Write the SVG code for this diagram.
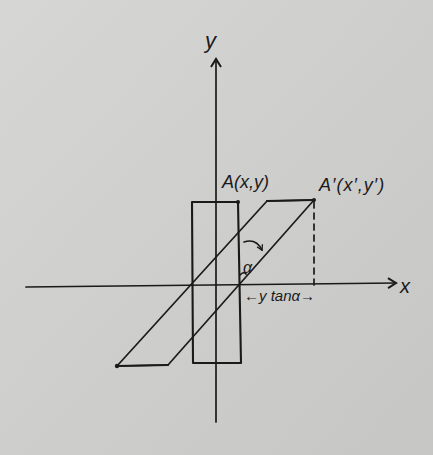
<svg xmlns="http://www.w3.org/2000/svg" width="433" height="455" viewBox="0 0 433 455">
<style>
.ln{stroke:#1a1a1a;stroke-width:1.7;fill:none;stroke-linecap:round;stroke-linejoin:round}
.th{stroke-width:2.1}
.tx{font-family:"Liberation Sans",sans-serif;font-style:italic;fill:#1a1a1a}
</style>
<defs>
<linearGradient id="bg" x1="0" y1="0" x2="1" y2="1">
<stop offset="0" stop-color="#d6d6d4"/>
<stop offset="1" stop-color="#c6c6c4"/>
</linearGradient>
<marker id="ah" markerWidth="12" markerHeight="12" refX="9" refY="6" orient="auto" markerUnits="userSpaceOnUse">
<path d="M1,1 L9,6 L1,11" fill="none" stroke="#1a1a1a" stroke-width="2"/>
</marker>
<marker id="sh" markerWidth="8" markerHeight="8" refX="6" refY="4" orient="auto" markerUnits="userSpaceOnUse">
<path d="M1,1 L6,4 L1,7" fill="none" stroke="#1a1a1a" stroke-width="1.3"/>
</marker>
</defs>
<rect width="433" height="455" fill="url(#bg)"/>
<g id="connectors">
<line id="x-axis" class="ln" x1="26" y1="287" x2="396" y2="283" marker-end="url(#ah)"/>
<line id="y-axis" class="ln" x1="216" y1="422" x2="216" y2="59" marker-end="url(#ah)"/>
<line id="drop" class="ln" x1="314" y1="202" x2="314" y2="285" stroke-dasharray="6,5"/>
</g>
<g id="rectangle">
<path class="ln th" d="M192,202 L238,202 L241,363 L193,363 Z"/>
<circle cx="238" cy="202" r="2" fill="#1a1a1a"/>
</g>
<g id="parallelogram">
<path class="ln" d="M117,366 L168,365 L314,200 L267,201 Z"/>
<path class="ln th" d="M117,366 L168,365 M314,200 L267,201"/>
<circle cx="314" cy="200" r="2" fill="#1a1a1a"/>
<circle cx="117" cy="366" r="2.2" fill="#1a1a1a"/>
</g>
<g id="angle">
<path class="ln" d="M240,275 Q244,271 246,274" stroke-width="1.3"/>
<path class="ln" d="M244,242 Q256,238 262,250" stroke-width="1.4" marker-end="url(#sh)"/>
<text class="tx" x="243" y="273" font-size="16">α</text>
</g>
<g id="labels">
<text class="tx" x="205" y="48" font-size="22">y</text>
<text class="tx" x="400" y="293" font-size="20">x</text>
<text class="tx" x="222" y="188" font-size="18">A(x,y)</text>
<text class="tx" x="319" y="191" font-size="18" letter-spacing="1">A′(x′,y′)</text>
<text class="tx" x="244" y="301" font-size="15">←y tanα→</text>
</g>
</svg>
